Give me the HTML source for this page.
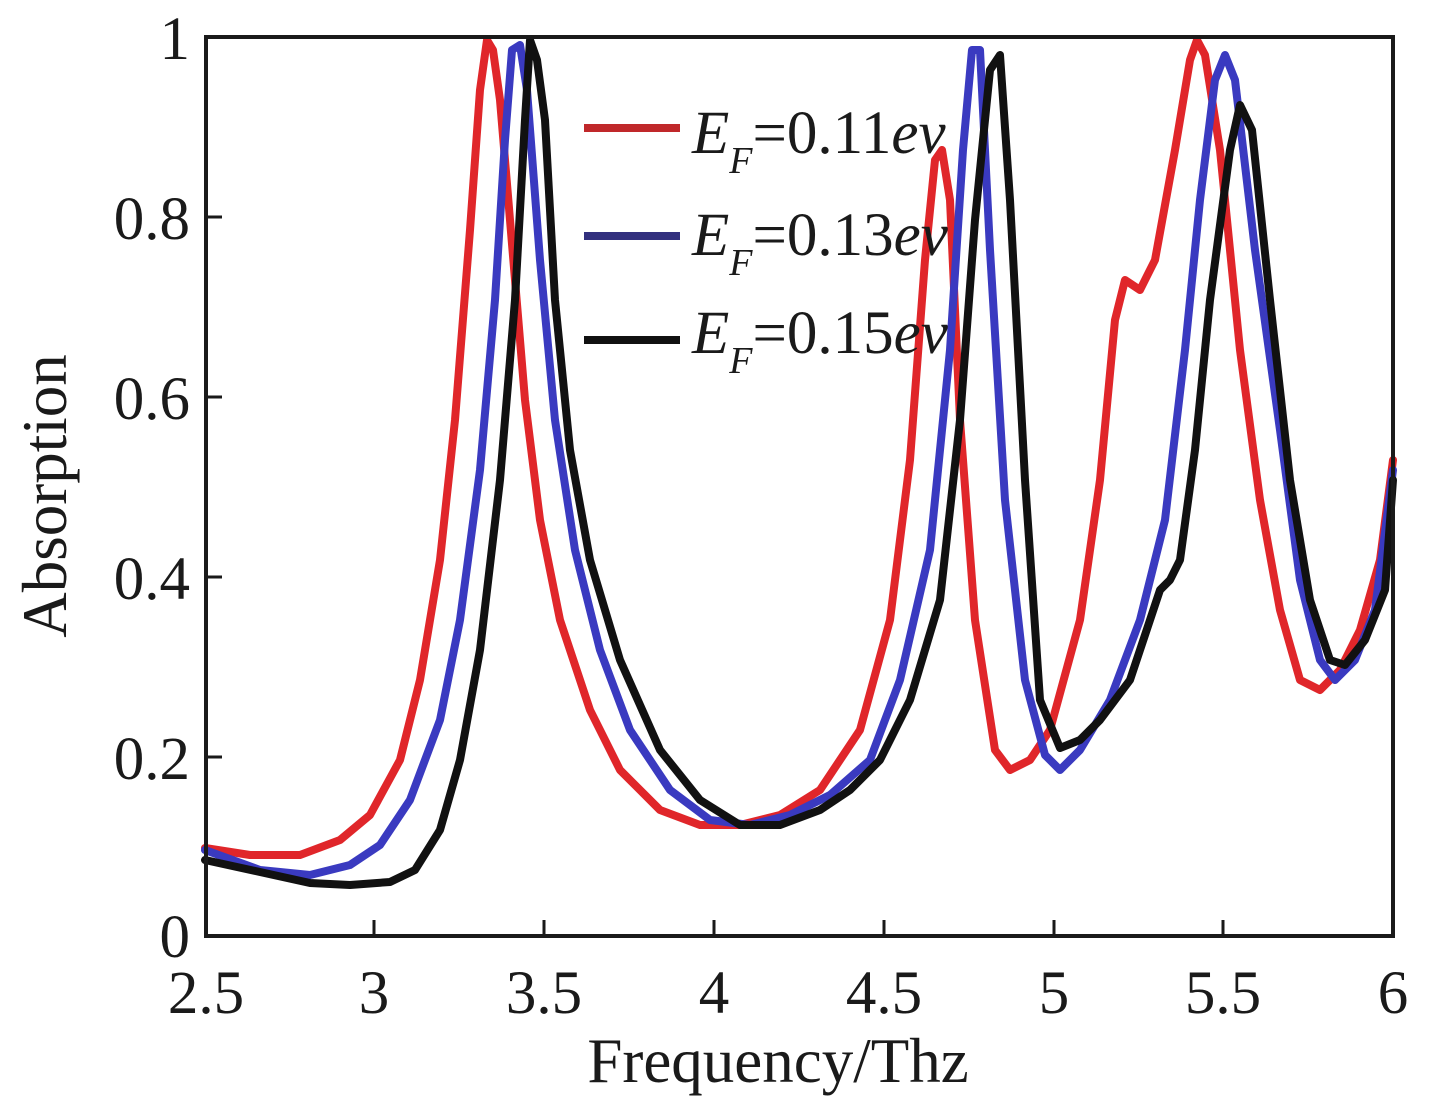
<!DOCTYPE html>
<html><head><meta charset="utf-8"><style>
html,body{margin:0;padding:0;background:#fff;}
svg text{font-family:"Liberation Serif",serif;fill:#1a1a1a;}
</style></head><body>
<svg width="1437" height="1100" viewBox="0 0 1437 1100" xmlns="http://www.w3.org/2000/svg">
<g fill="none" stroke-linejoin="round" stroke-linecap="round" stroke-width="8">
<polyline stroke="#e0262a" points="205,848 250,855 300,855 340,840 370,815 400,760 420,680 440,560 455,420 470,230 480,90 487,40 493,50 500,100 510,220 525,400 540,520 560,620 590,710 620,770 660,810 700,825 740,825 780,815 820,790 860,730 890,620 910,460 925,260 935,160 942,150 950,200 960,420 975,620 995,750 1010,770 1030,760 1050,730 1080,620 1100,480 1115,320 1125,280 1140,290 1155,260 1175,150 1190,60 1197,40 1205,55 1220,150 1240,350 1260,500 1280,610 1300,680 1320,690 1340,670 1360,630 1380,560 1393,460"/>
<polyline stroke="#3a3ac0" points="205,850 260,870 310,875 350,865 380,845 410,800 440,720 460,620 480,470 495,300 505,140 512,50 520,45 527,90 540,260 555,420 575,550 600,650 630,730 670,790 710,820 750,825 790,815 830,795 870,760 900,680 930,550 950,350 963,150 972,50 980,50 990,250 1005,500 1025,680 1045,755 1060,770 1080,750 1110,700 1140,620 1165,520 1185,350 1200,200 1215,80 1225,55 1235,80 1255,250 1280,430 1300,580 1320,660 1335,680 1355,660 1375,610 1393,470"/>
<polyline stroke="#111" points="205,860 260,872 310,883 350,885 390,882 415,870 440,830 460,760 480,650 500,480 515,300 525,120 530,40 537,60 545,120 555,300 570,450 590,560 620,660 660,750 700,800 740,825 780,825 820,810 850,790 880,760 910,700 940,600 960,420 975,220 990,70 1000,55 1010,200 1025,480 1040,700 1060,748 1080,740 1100,720 1130,680 1150,620 1160,590 1170,580 1180,560 1195,450 1210,300 1230,150 1240,105 1252,130 1270,300 1290,480 1310,600 1330,660 1345,665 1365,640 1385,590 1393,480"/>
</g>
<rect x="0" y="0" width="1437" height="35" fill="#fff"/>
<rect x="206" y="37" width="1187" height="899" fill="none" stroke="#1a1a1a" stroke-width="4"/>
<g stroke="#1a1a1a" stroke-width="3">
<line x1="206" y1="757" x2="222" y2="757"/><line x1="206" y1="577" x2="222" y2="577"/>
<line x1="206" y1="397" x2="222" y2="397"/><line x1="206" y1="217" x2="222" y2="217"/>
<line x1="374" y1="936" x2="374" y2="920"/><line x1="544" y1="936" x2="544" y2="920"/>
<line x1="714" y1="936" x2="714" y2="920"/><line x1="884" y1="936" x2="884" y2="920"/>
<line x1="1054" y1="936" x2="1054" y2="920"/><line x1="1223" y1="936" x2="1223" y2="920"/>
</g>
<g font-size="61" text-anchor="end">
<text x="190" y="957">0</text><text x="190" y="779">0.2</text><text x="190" y="599">0.4</text>
<text x="190" y="419">0.6</text><text x="190" y="239">0.8</text><text x="190" y="59">1</text>
</g>
<g font-size="61" text-anchor="middle">
<text x="206" y="1013">2.5</text><text x="374" y="1013">3</text><text x="544" y="1013">3.5</text>
<text x="714" y="1013">4</text><text x="884" y="1013">4.5</text><text x="1054" y="1013">5</text>
<text x="1223" y="1013">5.5</text><text x="1393" y="1013">6</text>
</g>
<text x="778" y="1082" font-size="63" text-anchor="middle">Frequency/Thz</text>
<text transform="translate(66,496) rotate(-90)" font-size="63" text-anchor="middle">Absorption</text>
<g stroke-width="8">
<line x1="584" y1="128" x2="680" y2="128" stroke="#c0282a"/>
<line x1="584" y1="236" x2="680" y2="236" stroke="#32307e"/>
<line x1="584" y1="340" x2="680" y2="340" stroke="#111"/>
</g>
<g font-size="61">
<text x="692" y="153"><tspan font-style="italic">E</tspan><tspan font-style="italic" font-size="38" dy="20">F</tspan><tspan dy="-20">=0.11</tspan><tspan font-style="italic">ev</tspan></text>
<text x="692" y="255"><tspan font-style="italic">E</tspan><tspan font-style="italic" font-size="38" dy="20">F</tspan><tspan dy="-20">=0.13</tspan><tspan font-style="italic">ev</tspan></text>
<text x="692" y="353"><tspan font-style="italic">E</tspan><tspan font-style="italic" font-size="38" dy="20">F</tspan><tspan dy="-20">=0.15</tspan><tspan font-style="italic">ev</tspan></text>
</g>
</svg>
</body></html>
